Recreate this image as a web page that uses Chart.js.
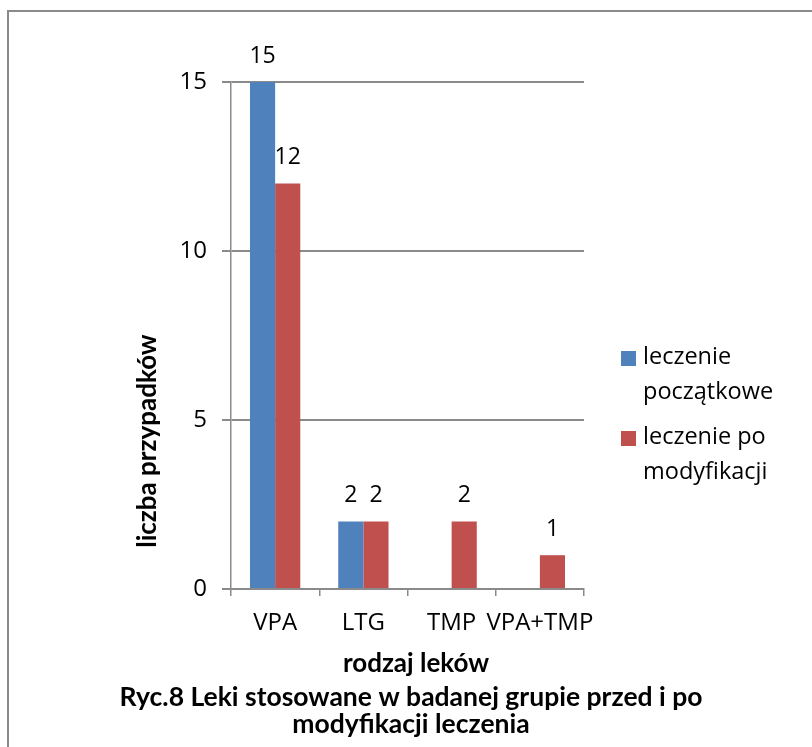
<!DOCTYPE html>
<html>
<head>
<meta charset="utf-8">
<script src="https://cdn.jsdelivr.net/npm/chart.js@4.4.1/dist/chart.umd.min.js"></script>
<style>
  html, body { margin: 0; padding: 0; background: #fff; overflow: hidden; }
  #wrap { position: relative; width: 812px; height: 747px; }
  #frame { position: absolute; left: 7px; top: 10px; width: 900px; height: 900px;
           border-left: 2px solid #8a8a8a; border-top: 2px solid #8a8a8a; }
  canvas { position: absolute; left: 0; top: 0; }
</style>
</head>
<body>
<div id="wrap">
  <div id="frame"></div>
  <canvas id="myChart" width="812" height="747"></canvas>
</div>
<script>
// leki i liczba przypadków
var drugLabels = ['VPA', 'LTG', 'TMP', 'VPA+TMP'];
var initialTreatment = [15, 2, null, null];
var modifiedTreatment = [12, 2, 2, 1];
var seriesNames = [['leczenie', 'początkowe'], ['leczenie po', 'modyfikacji']];
var yTicks = [0, 5, 10, 15];

var axisTitleX = 'rodzaj leków';
var axisTitleY = 'liczba przypadków';
var chartTitle = ['Ryc.8 Leki stosowane w badanej grupie przed i po', 'modyfikacji leczenia'];

var tickFont = '"Open Sans", sans-serif';
var boldFont = 'Lato, sans-serif';

// values above the bars
const valueLabels = {
    id: 'valueLabels',
    afterDatasetsDraw(chart) {
        var ctx = chart.ctx;
        ctx.save();
        ctx.fillStyle = '#000';
        ctx.font = '23px ' + tickFont;
        ctx.textAlign = 'center';
        ctx.textBaseline = 'middle';
        chart.data.datasets.forEach(function (ds, i) {
            var meta = chart.getDatasetMeta(i);
            meta.data.forEach(function (bar, j) {
                var v = ds.data[j];
                if (v === null || v === undefined) return;
                ctx.fillText(String(v), bar.x, bar.y - 26);
            });
        });
        ctx.restore();
    }
};

// axis titles, caption and legend on the right
const decorations = {
    id: 'decorations',
    afterDraw(chart) {
        var ctx = chart.ctx;
        var area = chart.chartArea;
        ctx.save();
        ctx.fillStyle = '#000';
        ctx.textAlign = 'center';
        ctx.textBaseline = 'middle';
        ctx.font = 'bold 26px ' + boldFont;

        // y title
        ctx.save();
        ctx.translate(area.left - 83, 441);
        ctx.rotate(-Math.PI / 2);
        ctx.fillText(axisTitleY, 0, 0);
        ctx.restore();

        // x title
        ctx.fillText(axisTitleX, 416, 664);

        // caption
        ctx.font = 'bold 26.5px ' + boldFont;
        ctx.fillText(chartTitle[0], 411, 697);
        ctx.fillText(chartTitle[1], 411, 724);

        // legend
        ctx.font = '23.5px ' + tickFont;
        ctx.textAlign = 'left';
        var ly = 357;
        chart.data.datasets.forEach(function (ds, i) {
            ctx.fillStyle = ds.backgroundColor;
            ctx.fillRect(621, ly - 6, 15, 15);
            ctx.fillStyle = '#000';
            seriesNames[i].forEach(function (line, k) {
                ctx.fillText(line, 643, ly + k * 35);
            });
            ly += 80;
        });
        ctx.restore();
    }
};

const config = {
    type: 'bar',
    data: {
        labels: drugLabels,
        datasets: [
            {
                label: seriesNames[0].join(' '),
                data: initialTreatment,
                backgroundColor: '#4F81BD',
                categoryPercentage: 0.57,
                barPercentage: 1.0
            },
            {
                label: seriesNames[1].join(' '),
                data: modifiedTreatment,
                backgroundColor: '#C0504D',
                categoryPercentage: 0.57,
                barPercentage: 1.0
            }
        ]
    },
    options: {
        responsive: false,
        animation: false,
        layout: {
            padding: { left: 0, top: 82, right: 228, bottom: 0 }
        },
        scales: {
            x: {
                grid: {
                    offset: true,
                    drawOnChartArea: false,
                    tickLength: 7,
                    color: '#8a8a8a',
                    lineWidth: 1.5
                },
                border: { color: '#8a8a8a', width: 1.5 },
                ticks: {
                    color: '#000',
                    font: { family: tickFont, size: 24 },
                    padding: 13,
                    maxRotation: 0,
                    autoSkip: false
                },
                afterFit: function (scale) { scale.height = 158; }
            },
            y: {
                min: 0,
                max: 15,
                afterBuildTicks: function (scale) {
                    scale.ticks = yTicks.map(function (v) { return { value: v }; });
                },
                grid: {
                    color: '#8a8a8a',
                    lineWidth: 2,
                    tickLength: 9
                },
                border: { color: '#8a8a8a', width: 1.5 },
                ticks: {
                    color: '#000',
                    font: { family: tickFont, size: 24 },
                    padding: 15
                },
                afterFit: function (scale) { scale.width = 231; }
            }
        },
        plugins: {
            legend: { display: false },
            title: { display: false },
            tooltip: { enabled: false }
        }
    },
    plugins: [valueLabels, decorations]
};

window.myChart = new Chart(document.getElementById('myChart'), config);
</script>
</body>
</html>
